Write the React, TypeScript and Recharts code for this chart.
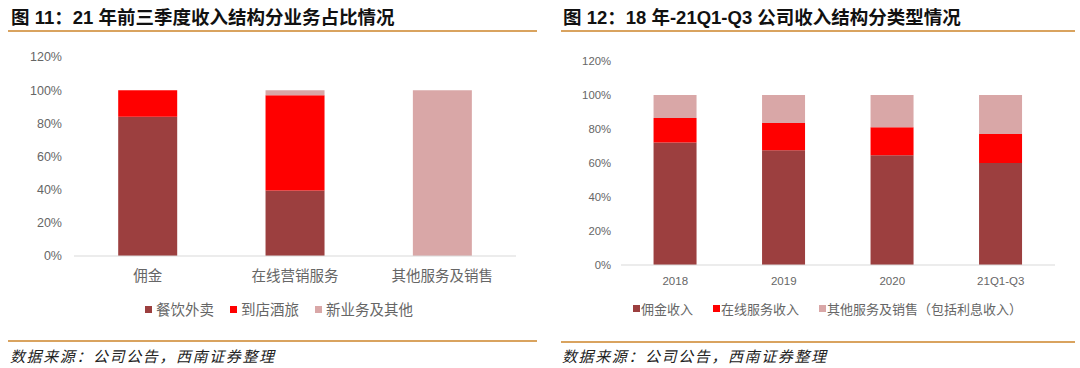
import { Bar, BarChart, XAxis, YAxis } from "recharts";

const leftCategories = ["佣金", "在线营销服务", "其他服务及销售"];
const leftFood = [84, 39.5, 0];
const leftInStore = [16, 57.5, 0];
const leftNewBiz = [0, 3, 100];
const leftSeries = ["餐饮外卖", "到店酒旅", "新业务及其他"];

const rightCategories = ["2018", "2019", "2020", "21Q1-Q3"];
const rightCommission = [72, 67.5, 64.5, 60];
const rightOnline = [14.5, 16, 16.5, 17];
const rightOther = [13.5, 16.5, 19, 23];
const rightSeries = ["佣金收入", "在线服务收入", "其他服务及销售（包括利息收入）"];

const pctTicks = [0, 20, 40, 60, 80, 100, 120];

const COLORS = ["#9c3f3f", "#ff0000", "#d9a7a7"];
const RULE = "#d9a35f";
const CJK = '"Liberation Sans", "Noto Sans CJK SC", sans-serif';

const leftData = leftCategories.map((name, i) => ({
	name,
	a: leftFood[i],
	b: leftInStore[i],
	c: leftNewBiz[i],
}));

const rightData = rightCategories.map((name, i) => ({
	name,
	a: rightCommission[i],
	b: rightOnline[i],
	c: rightOther[i],
}));

function Legend({
	names,
	left,
	top,
	fontSize,
	gap,
	textGap,
}: {
	names: string[];
	left: number;
	top: number;
	fontSize: number;
	gap: number;
	textGap: number;
}) {
	return (
		<div
			style={{
				position: "absolute",
				left,
				top,
				display: "flex",
				alignItems: "center",
				fontFamily: '"Noto Sans CJK SC", sans-serif',
				fontSize,
				color: "#666",
				lineHeight: 1,
				whiteSpace: "nowrap",
			}}
		>
			{names.map((n, i) => (
				<div key={n} style={{ display: "flex", alignItems: "center", marginRight: gap }}>
					<span style={{ width: 7, height: 7, background: COLORS[i], marginRight: textGap }} />
					<span>{n}</span>
				</div>
			))}
		</div>
	);
}

function Title({ text, left }: { text: string; left: number }) {
	return (
		<div
			style={{
				position: "absolute",
				left,
				top: 6,
				fontFamily: CJK,
				fontWeight: 700,
				fontSize: 18.5,
				lineHeight: "24px",
				color: "#111",
				whiteSpace: "nowrap",
			}}
		>
			{text}
		</div>
	);
}

function Rule({ left, width, top }: { left: number; width: number; top: number }) {
	return <div style={{ position: "absolute", left, top, width, height: 2, background: RULE }} />;
}

function Source({ left }: { left: number }) {
	return (
		<div
			style={{
				position: "absolute",
				left,
				top: 346,
				fontFamily: '"Noto Sans CJK SC", sans-serif',
				fontStyle: "italic",
				fontSize: 15,
				letterSpacing: 1.6,
				lineHeight: "20px",
				color: "#222",
				whiteSpace: "nowrap",
			}}
		>
			数据来源：公司公告，西南证券整理
		</div>
	);
}

export default function App() {
	return (
		<div
			style={{
				position: "absolute",
				left: 0,
				top: 0,
				width: 1080,
				height: 368,
				background: "#fff",
				overflow: "hidden",
			}}
		>
			<Title text="图 11：21 年前三季度收入结构分业务占比情况" left={11} />
			<Rule left={8} width={529} top={30} />
			<Title text="图 12：18 年-21Q1-Q3 公司收入结构分类型情况" left={563} />
			<Rule left={561} width={514} top={30} />

			<div style={{ position: "absolute", left: 0, top: 0 }}>
				<BarChart
					width={540}
					height={300}
					data={leftData}
					margin={{ top: 57, right: 24, left: 0, bottom: 0 }}
					barCategoryGap="30%"
				>
					<XAxis
						dataKey="name"
						interval={0}
						height={44}
						tickLine={false}
						tickMargin={9}
						axisLine={{ stroke: "#d9d9d9" }}
						tick={{ fontSize: 14.5, fill: "#666", fontFamily: '"Noto Sans CJK SC", sans-serif' }}
					/>
					<YAxis
						width={74}
						domain={[0, 120]}
						ticks={pctTicks}
						tickFormatter={(v) => `${v}%`}
						axisLine={false}
						tickLine={false}
						tickMargin={6}
						tick={{ fontSize: 12.5, fill: "#666", fontFamily: '"Liberation Sans", sans-serif' }}
					/>
					<Bar dataKey="a" stackId="s" fill={COLORS[0]} isAnimationActive={false} />
					<Bar dataKey="b" stackId="s" fill={COLORS[1]} isAnimationActive={false} />
					<Bar dataKey="c" stackId="s" fill={COLORS[2]} isAnimationActive={false} />
				</BarChart>
			</div>

			<div style={{ position: "absolute", left: 540, top: 0 }}>
				<BarChart
					width={540}
					height={300}
					data={rightData}
					margin={{ top: 61, right: 25, left: 0, bottom: 0 }}
					barCategoryGap="30%"
				>
					<XAxis
						dataKey="name"
						interval={0}
						height={35}
						tickLine={false}
						tickMargin={6}
						axisLine={{ stroke: "#d9d9d9" }}
						tick={{ fontSize: 11.5, fill: "#666", fontFamily: '"Liberation Sans", sans-serif' }}
					/>
					<YAxis
						width={81}
						domain={[0, 120]}
						ticks={pctTicks}
						tickFormatter={(v) => `${v}%`}
						axisLine={false}
						tickLine={false}
						tickMargin={4}
						tick={{ fontSize: 11.3, fill: "#666", fontFamily: '"Liberation Sans", sans-serif' }}
					/>
					<Bar dataKey="a" stackId="s" fill={COLORS[0]} isAnimationActive={false} />
					<Bar dataKey="b" stackId="s" fill={COLORS[1]} isAnimationActive={false} />
					<Bar dataKey="c" stackId="s" fill={COLORS[2]} isAnimationActive={false} />
				</BarChart>
			</div>

			<Legend names={leftSeries} left={145} top={302} fontSize={14.5} gap={16} textGap={4} />
			<Legend names={rightSeries} left={633} top={302} fontSize={13} gap={20} textGap={1} />

			<Rule left={8} width={529} top={340} />
			<Rule left={561} width={514} top={341} />
			<Source left={10} />
			<Source left={562} />
		</div>
	);
}
